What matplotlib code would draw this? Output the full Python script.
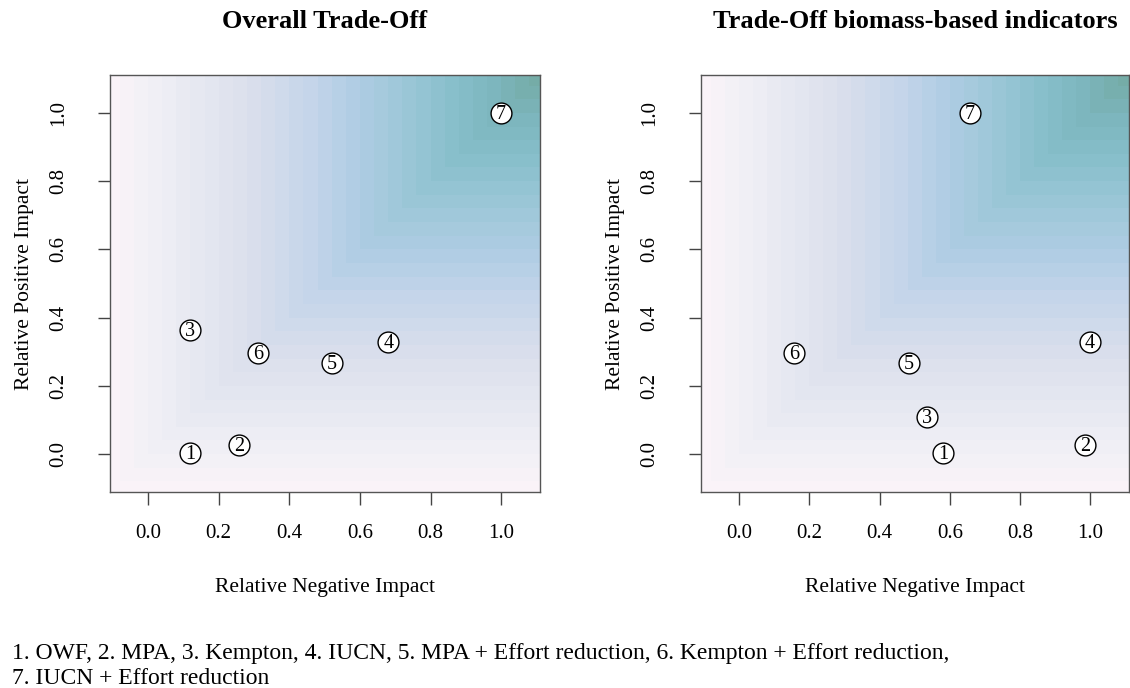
import numpy as np
import matplotlib
matplotlib.use("Agg")
import matplotlib.pyplot as plt
from matplotlib.colors import LinearSegmentedColormap

# ---- data ----
labels = ["1", "2", "3", "4", "5", "6", "7"]
overall_neg = [0.119, 0.258, 0.119, 0.680, 0.521, 0.312, 1.0]
overall_pos = [0.003, 0.026, 0.364, 0.328, 0.267, 0.296, 1.0]
biomass_neg = [0.582, 0.984, 0.535, 0.998, 0.483, 0.156, 0.657]
biomass_pos = [0.002, 0.026, 0.109, 0.329, 0.268, 0.297, 1.0]
titles = ["Overall Trade-Off", "Trade-Off biomass-based indicators"]
xlabel = "Relative Negative Impact"
ylabel = "Relative Positive Impact"
ticks = [0.0, 0.2, 0.4, 0.6, 0.8, 1.0]
tick_labels = ["0.0", "0.2", "0.4", "0.6", "0.8", "1.0"]
footnote = ("1. OWF, 2. MPA, 3. Kempton, 4. IUCN, 5. MPA + Effort reduction, "
            "6. Kempton + Effort reduction,\n7. IUCN + Effort reduction")

plt.rcParams['font.family'] = ['Liberation Serif', 'DejaVu Serif']

cmap = LinearSegmentedColormap.from_list("tradeoff", [
    (0.00, "#fbf3f8"),
    (0.08, "#f2f1f6"),
    (0.33, "#dadfec"),
    (0.47, "#c4d5ea"),
    (0.57, "#b0cde4"),
    (0.70, "#9ac6d6"),
    (0.80, "#87bfcb"),
    (0.90, "#7cb5bd"),
    (1.00, "#74aba5"),
])

fig = plt.figure(figsize=(11.3, 6.88), dpi=100)
W, H = 1130, 688
axes_px = [(110, 540), (701, 1129)]
top_px, bot_px = 75, 492

xlim = (-0.108, 1.11)
ylim = (-0.111, 1.111)

edges = np.arange(-0.12, 1.16, 0.04)
gx, gy = np.meshgrid(edges, edges)
cx = (edges[:-1] + edges[1:]) / 2
CX, CY = np.meshgrid(cx, cx)
Z = np.minimum(CX, CY)

datasets = [(overall_neg, overall_pos), (biomass_neg, biomass_pos)]

for i, (l, r) in enumerate(axes_px):
    ax = fig.add_axes([l / W, 1 - bot_px / H, (r - l) / W, (bot_px - top_px) / H])
    ax.pcolormesh(gx, gy, Z, cmap=cmap, vmin=-0.11, vmax=1.11, shading='flat',
                  edgecolors='none', antialiased=False, rasterized=True)
    ax.set_xlim(*xlim)
    ax.set_ylim(*ylim)
    xs, ys = datasets[i]
    ax.plot(xs, ys, linestyle='none', marker='o', markersize=15,
            markerfacecolor='white', markeredgecolor='black', markeredgewidth=1.0, zorder=3)
    for lab, x, y in zip(labels, xs, ys):
        ax.text(x, y - 0.004, lab, ha='center', va='center', fontsize=14.5, zorder=4)
    ax.set_xticks(ticks)
    ax.set_xticklabels(tick_labels, fontsize=15)
    ax.set_yticks(ticks)
    ax.set_yticklabels(tick_labels, fontsize=15, rotation=90, va='center')
    ax.tick_params(length=9, width=1, color='#444444')
    ax.tick_params(axis='x', pad=14)
    ax.tick_params(axis='y', pad=21)
    for s in ax.spines.values():
        s.set_color('#555555')
        s.set_linewidth(1.0)
    ax.set_xlabel(xlabel, fontsize=15.5, labelpad=25)
    ax.set_ylabel(ylabel, fontsize=15.5, labelpad=11)
    cxp = (l + r) / 2
    fig.text(cxp / W, 1 - 22 / H, titles[i], ha='center', va='center',
             fontsize=19, fontweight='bold')

fig.text(12 / W, 1 - 666 / H, footnote, ha='left', va='center', fontsize=17,
         linespacing=1.2)

fig.savefig("out.png", dpi=100)
